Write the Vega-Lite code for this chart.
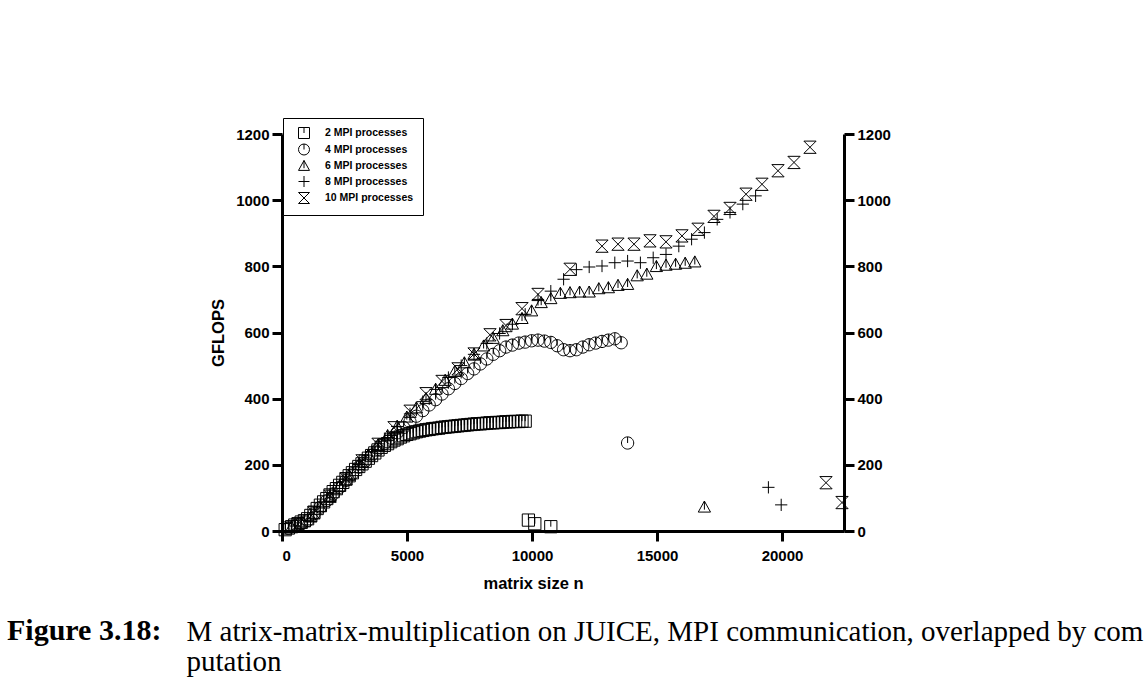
{
  "$schema": "https://vega.github.io/schema/vega-lite/v6.json",
  "width": 562,
  "height": 397,
  "autosize": {"type": "none"},
  "padding": {"left": 282, "top": 134, "right": 300, "bottom": 167},
  "background": "white",
  "title": {
    "text": "Figure 3.18:",
    "orient": "top",
    "anchor": "start",
    "frame": "group",
    "dx": -275,
    "dy": 552,
    "offset": 0,
    "baseline": "alphabetic",
    "font": "Liberation Serif",
    "fontSize": 30,
    "fontWeight": "bold",
    "color": "black"
  },
  "data": {
    "values": [
      {"s":2,"n":128,"g":4},{"s":2,"n":256,"g":9},{"s":2,"n":384,"g":13},{"s":2,"n":512,"g":18},{"s":2,"n":640,"g":22},{"s":2,"n":768,"g":27},{"s":2,"n":896,"g":31},{"s":2,"n":1024,"g":37},{"s":2,"n":1152,"g":47},{"s":2,"n":1280,"g":57},{"s":2,"n":1408,"g":68},{"s":2,"n":1536,"g":78},{"s":2,"n":1664,"g":88},{"s":2,"n":1792,"g":98},{"s":2,"n":1920,"g":109},{"s":2,"n":2048,"g":119},{"s":2,"n":2176,"g":128},{"s":2,"n":2304,"g":138},{"s":2,"n":2432,"g":147},{"s":2,"n":2560,"g":157},{"s":2,"n":2688,"g":167},{"s":2,"n":2816,"g":176},{"s":2,"n":2944,"g":186},{"s":2,"n":3072,"g":195},{"s":2,"n":3200,"g":203},{"s":2,"n":3328,"g":211},{"s":2,"n":3456,"g":220},{"s":2,"n":3584,"g":228},{"s":2,"n":3712,"g":236},{"s":2,"n":3840,"g":245},{"s":2,"n":3968,"g":253},{"s":2,"n":4096,"g":259},{"s":2,"n":4224,"g":264},{"s":2,"n":4352,"g":270},{"s":2,"n":4480,"g":275},{"s":2,"n":4608,"g":279},{"s":2,"n":4736,"g":284},{"s":2,"n":4864,"g":288},{"s":2,"n":4992,"g":292},{"s":2,"n":5120,"g":294},{"s":2,"n":5248,"g":297},{"s":2,"n":5376,"g":300},{"s":2,"n":5504,"g":302},{"s":2,"n":5632,"g":304},{"s":2,"n":5760,"g":306},{"s":2,"n":5888,"g":307},{"s":2,"n":6016,"g":309},{"s":2,"n":6144,"g":310},{"s":2,"n":6272,"g":311},{"s":2,"n":6400,"g":313},{"s":2,"n":6528,"g":314},{"s":2,"n":6656,"g":315},{"s":2,"n":6784,"g":316},{"s":2,"n":6912,"g":317},{"s":2,"n":7040,"g":318},{"s":2,"n":7168,"g":319},{"s":2,"n":7296,"g":320},{"s":2,"n":7424,"g":321},{"s":2,"n":7552,"g":322},{"s":2,"n":7680,"g":323},{"s":2,"n":7808,"g":324},{"s":2,"n":7936,"g":324},{"s":2,"n":8064,"g":325},{"s":2,"n":8192,"g":326},{"s":2,"n":8320,"g":327},{"s":2,"n":8448,"g":327},{"s":2,"n":8576,"g":328},{"s":2,"n":8704,"g":328},{"s":2,"n":8832,"g":329},{"s":2,"n":8960,"g":330},{"s":2,"n":9088,"g":330},{"s":2,"n":9216,"g":331},{"s":2,"n":9344,"g":331},{"s":2,"n":9472,"g":331},{"s":2,"n":9600,"g":332},{"s":2,"n":9728,"g":332},{"s":2,"n":9856,"g":33},{"s":2,"n":10112,"g":22},{"s":2,"n":10752,"g":13},
      {"s":4,"n":256,"g":8},{"s":4,"n":512,"g":15},{"s":4,"n":768,"g":23},{"s":4,"n":1024,"g":32},{"s":4,"n":1280,"g":52},{"s":4,"n":1536,"g":72},{"s":4,"n":1792,"g":92},{"s":4,"n":2048,"g":112},{"s":4,"n":2304,"g":132},{"s":4,"n":2560,"g":153},{"s":4,"n":2816,"g":173},{"s":4,"n":3072,"g":193},{"s":4,"n":3328,"g":211},{"s":4,"n":3584,"g":229},{"s":4,"n":3840,"g":247},{"s":4,"n":4096,"g":264},{"s":4,"n":4352,"g":281},{"s":4,"n":4608,"g":297},{"s":4,"n":4864,"g":313},{"s":4,"n":5120,"g":330},{"s":4,"n":5376,"g":347},{"s":4,"n":5632,"g":364},{"s":4,"n":5888,"g":381},{"s":4,"n":6144,"g":397},{"s":4,"n":6400,"g":414},{"s":4,"n":6656,"g":430},{"s":4,"n":6912,"g":446},{"s":4,"n":7168,"g":461},{"s":4,"n":7424,"g":476},{"s":4,"n":7680,"g":490},{"s":4,"n":7936,"g":505},{"s":4,"n":8192,"g":520},{"s":4,"n":8448,"g":534},{"s":4,"n":8704,"g":545},{"s":4,"n":8960,"g":556},{"s":4,"n":9216,"g":562},{"s":4,"n":9472,"g":568},{"s":4,"n":9728,"g":571},{"s":4,"n":9984,"g":575},{"s":4,"n":10240,"g":577},{"s":4,"n":10496,"g":574},{"s":4,"n":10752,"g":570},{"s":4,"n":11008,"g":560},{"s":4,"n":11264,"g":548},{"s":4,"n":11520,"g":545},{"s":4,"n":11776,"g":548},{"s":4,"n":12032,"g":556},{"s":4,"n":12288,"g":563},{"s":4,"n":12544,"g":568},{"s":4,"n":12800,"g":573},{"s":4,"n":13056,"g":577},{"s":4,"n":13312,"g":581},{"s":4,"n":13568,"g":569},{"s":4,"n":13824,"g":266},
      {"s":6,"n":384,"g":12},{"s":6,"n":768,"g":23},{"s":6,"n":1152,"g":42},{"s":6,"n":1536,"g":73},{"s":6,"n":1920,"g":104},{"s":6,"n":2304,"g":136},{"s":6,"n":2688,"g":168},{"s":6,"n":3072,"g":201},{"s":6,"n":3456,"g":230},{"s":6,"n":3840,"g":260},{"s":6,"n":4224,"g":288},{"s":6,"n":4608,"g":316},{"s":6,"n":4992,"g":344},{"s":6,"n":5376,"g":372},{"s":6,"n":5760,"g":400},{"s":6,"n":6144,"g":428},{"s":6,"n":6528,"g":455},{"s":6,"n":6912,"g":482},{"s":6,"n":7296,"g":508},{"s":6,"n":7680,"g":534},{"s":6,"n":8064,"g":559},{"s":6,"n":8448,"g":582},{"s":6,"n":8832,"g":605},{"s":6,"n":9216,"g":625},{"s":6,"n":9600,"g":642},{"s":6,"n":9984,"g":665},{"s":6,"n":10368,"g":690},{"s":6,"n":10752,"g":702},{"s":6,"n":11136,"g":718},{"s":6,"n":11520,"g":720},{"s":6,"n":11904,"g":722},{"s":6,"n":12288,"g":722},{"s":6,"n":12672,"g":732},{"s":6,"n":13056,"g":735},{"s":6,"n":13440,"g":742},{"s":6,"n":13824,"g":745},{"s":6,"n":14208,"g":771},{"s":6,"n":14592,"g":776},{"s":6,"n":14976,"g":799},{"s":6,"n":15360,"g":803},{"s":6,"n":15744,"g":806},{"s":6,"n":16128,"g":809},{"s":6,"n":16512,"g":813},{"s":6,"n":16896,"g":72},
      {"s":8,"n":512,"g":15},{"s":8,"n":1024,"g":32},{"s":8,"n":1536,"g":73},{"s":8,"n":2048,"g":114},{"s":8,"n":2560,"g":157},{"s":8,"n":3072,"g":201},{"s":8,"n":3584,"g":240},{"s":8,"n":4096,"g":279},{"s":8,"n":4608,"g":316},{"s":8,"n":5120,"g":354},{"s":8,"n":5632,"g":391},{"s":8,"n":6144,"g":428},{"s":8,"n":6656,"g":464},{"s":8,"n":7168,"g":500},{"s":8,"n":7680,"g":534},{"s":8,"n":8192,"g":567},{"s":8,"n":8704,"g":597},{"s":8,"n":9216,"g":625},{"s":8,"n":9728,"g":655},{"s":8,"n":10240,"g":700},{"s":8,"n":10752,"g":725},{"s":8,"n":11264,"g":761},{"s":8,"n":11776,"g":790},{"s":8,"n":12288,"g":798},{"s":8,"n":12800,"g":801},{"s":8,"n":13312,"g":811},{"s":8,"n":13824,"g":816},{"s":8,"n":14336,"g":811},{"s":8,"n":14848,"g":826},{"s":8,"n":15360,"g":836},{"s":8,"n":15872,"g":861},{"s":8,"n":16384,"g":882},{"s":8,"n":16896,"g":902},{"s":8,"n":17408,"g":942},{"s":8,"n":17920,"g":963},{"s":8,"n":18432,"g":988},{"s":8,"n":18944,"g":1013},{"s":8,"n":19456,"g":132},{"s":8,"n":19968,"g":79},
      {"s":10,"n":640,"g":20},{"s":10,"n":1280,"g":55},{"s":10,"n":1920,"g":105},{"s":10,"n":2560,"g":158},{"s":10,"n":3200,"g":212},{"s":10,"n":3840,"g":262},{"s":10,"n":4480,"g":312},{"s":10,"n":5120,"g":362},{"s":10,"n":5760,"g":415},{"s":10,"n":6400,"g":452},{"s":10,"n":7040,"g":490},{"s":10,"n":7680,"g":535},{"s":10,"n":8320,"g":593},{"s":10,"n":8960,"g":621},{"s":10,"n":9600,"g":672},{"s":10,"n":10240,"g":715},{"s":10,"n":11520,"g":791},{"s":10,"n":12800,"g":861},{"s":10,"n":13440,"g":867},{"s":10,"n":14080,"g":867},{"s":10,"n":14720,"g":877},{"s":10,"n":15360,"g":874},{"s":10,"n":16000,"g":892},{"s":10,"n":16640,"g":912},{"s":10,"n":17280,"g":951},{"s":10,"n":17920,"g":975},{"s":10,"n":18560,"g":1018},{"s":10,"n":19200,"g":1048},{"s":10,"n":19840,"g":1089},{"s":10,"n":20480,"g":1114},{"s":10,"n":21120,"g":1160},{"s":10,"n":21760,"g":146},{"s":10,"n":22400,"g":86}
    ]
  },
  "encoding": {
    "x": {
      "field": "n",
      "type": "quantitative",
      "scale": {"domain": [0, 22480], "nice": false, "zero": false},
      "axis": {
        "title": "matrix size n",
        "values": [0, 5000, 10000, 15000, 20000],
        "format": "d",
        "labelPadding": 7,
        "titlePadding": 12,
        "titleX": 251
      }
    },
    "shape": {
      "field": "s",
      "type": "nominal",
      "scale": {
        "domain": [2, 4, 6, 8, 10],
        "range": [
          "M-1,-1H1V1H-1Z M0,-1V0",
          "M-1,0A1,1,0,1,1,1,0A1,1,0,1,1,-1,0Z M0,-1V0",
          "M0,-1L1,0.8L-1,0.8Z M0,-1V0.4",
          "M-1,0H1M0,-1V1",
          "M-1,-1H1L-1,1H1Z"
        ]
      },
      "legend": {
        "title": null,
        "labelExpr": "datum.label + ' MPI processes'",
        "orient": "none",
        "legendX": 1,
        "legendY": -16,
        "padding": 9,
        "strokeColor": "black",
        "fillColor": "white",
        "rowPadding": 0.5,
        "symbolOffset": 6,
        "labelOffset": 15,
        "symbolSize": 121,
        "symbolStrokeWidth": 1,
        "symbolStrokeColor": "black",
        "symbolFillColor": "transparent",
        "labelFont": "Liberation Sans",
        "labelFontWeight": "bold",
        "labelFontSize": 10.5,
        "labelColor": "black"
      }
    }
  },
  "layer": [
    {
      "transform": [{"filter": "datum.s <= 6"}],
      "mark": {"type": "point", "filled": false, "color": "black", "strokeWidth": 1, "size": 150, "opacity": 1},
      "encoding": {
        "y": {
          "field": "g",
          "type": "quantitative",
          "scale": {"domain": [0, 1200], "nice": false},
          "axis": {"orient": "left", "title": "GFLOPS", "format": "d", "values": [0, 200, 400, 600, 800, 1000, 1200], "labelPadding": 3, "titlePadding": 9}
        }
      }
    },
    {
      "transform": [{"filter": "datum.s >= 8"}],
      "mark": {"type": "point", "filled": false, "color": "black", "strokeWidth": 1, "size": 150, "opacity": 1},
      "encoding": {
        "y": {
          "field": "g",
          "type": "quantitative",
          "scale": {"domain": [0, 1200], "nice": false},
          "axis": {
            "orient": "right",
            "title": ["M atrix-matrix-multiplication on JUICE, MPI communication, overlapped by com", "putation"],
            "titleAngle": 0,
            "titleAlign": "left",
            "titleBaseline": "alphabetic",
            "titleX": -658,
            "titleY": 506,
            "titleFont": "Liberation Serif",
            "titleFontSize": 29,
            "titleFontWeight": "normal",
            "titleLineHeight": 30,
            "format": "d",
            "values": [0, 200, 400, 600, 800, 1000, 1200],
            "labelPadding": 3
          }
        }
      }
    }
  ],
  "resolve": {"axis": {"y": "independent"}},
  "config": {
    "view": {"stroke": null},
    "axis": {
      "grid": false,
      "domainColor": "black",
      "domainWidth": 3,
      "tickColor": "black",
      "tickWidth": 3,
      "tickSize": 10,
      "labelColor": "black",
      "labelFont": "Liberation Sans",
      "labelFontWeight": "bold",
      "labelFontSize": 15,
      "titleColor": "black",
      "titleFont": "Liberation Sans",
      "titleFontWeight": "bold",
      "titleFontSize": 16.5
    }
  }
}
